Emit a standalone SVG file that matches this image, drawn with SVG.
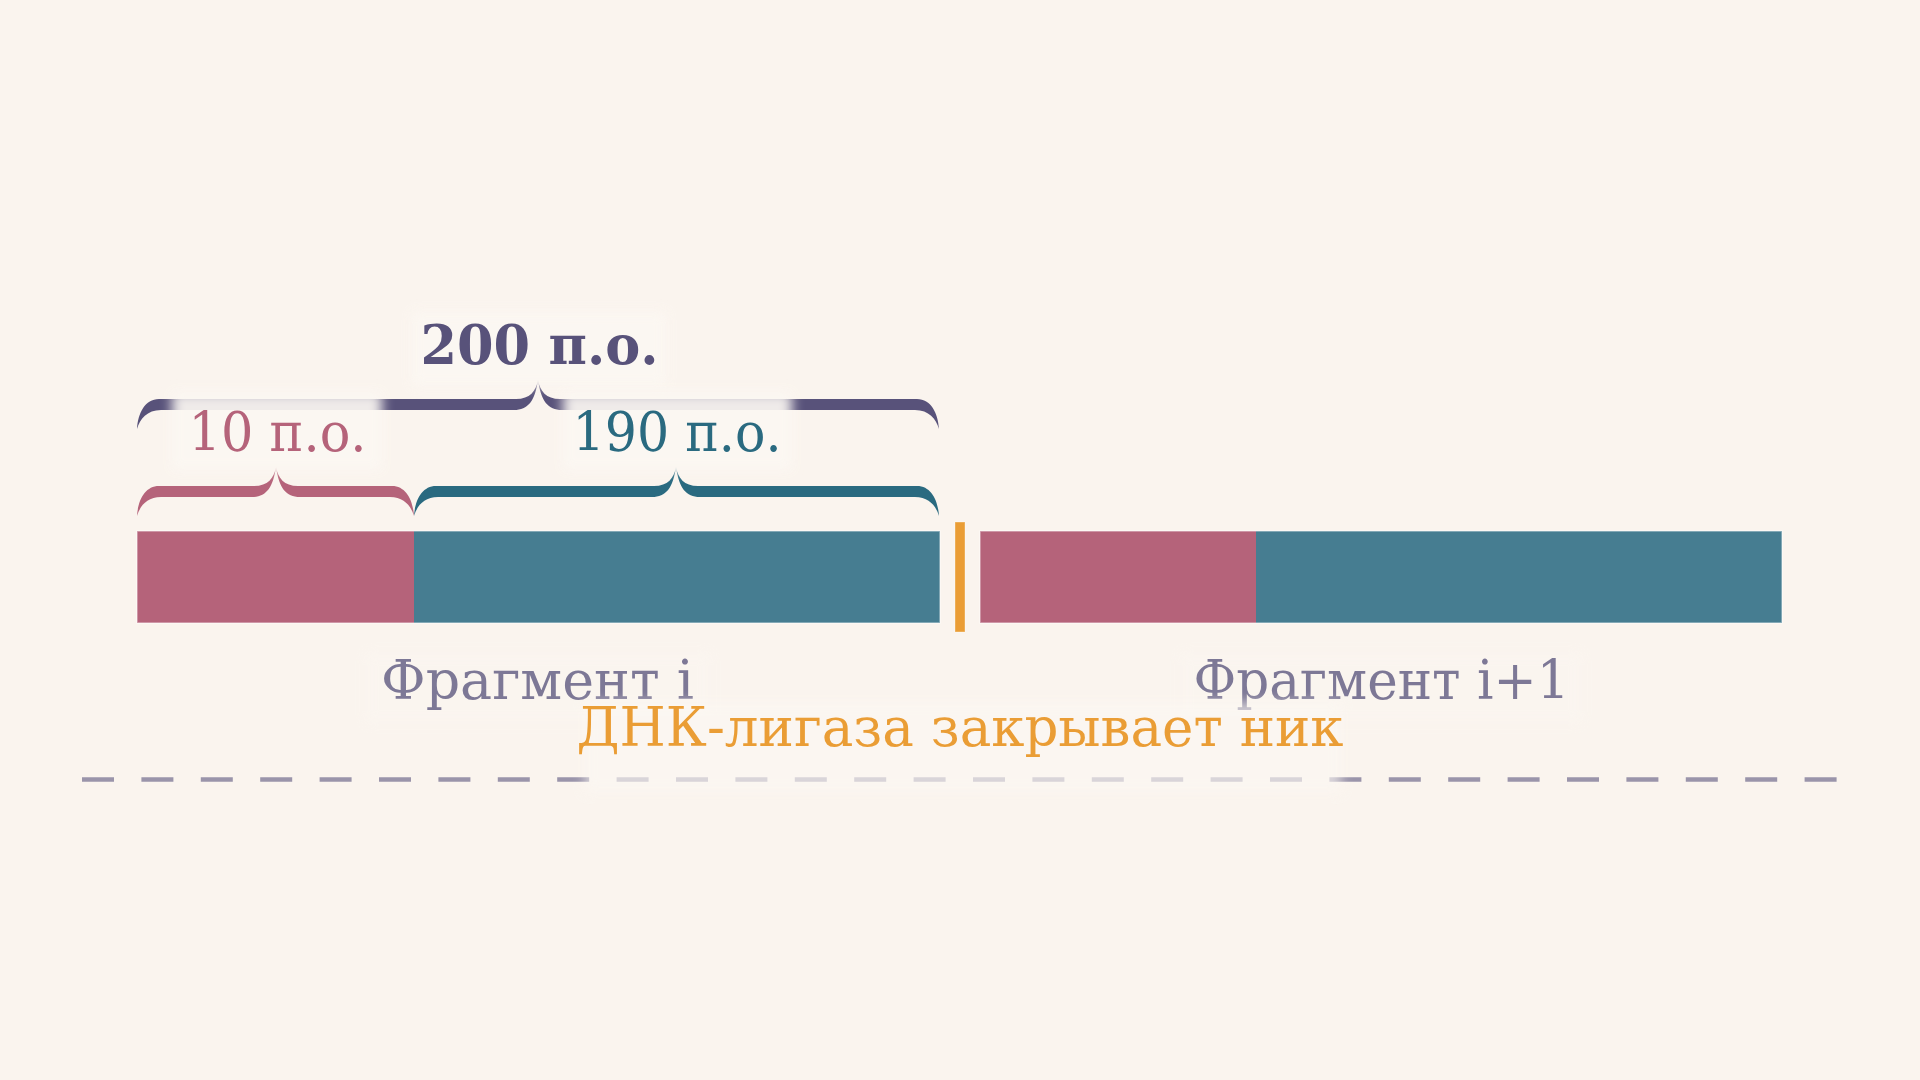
<svg xmlns="http://www.w3.org/2000/svg" width="1920" height="1080" viewBox="0 0 1920 1080">
<defs>
<style>
.lbl{font-family:"DejaVu Serif","Liberation Serif",serif;text-anchor:middle;font-size:54px}
.edge{fill:none;stroke:#ffffff;stroke-opacity:0.45;stroke-width:1.5}
.lbg{fill:#fcf8f3;filter:url(#soft)}
</style>
<filter id="soft" x="-20%" y="-40%" width="140%" height="180%"><feGaussianBlur stdDeviation="6"/></filter>
</defs>
<rect width="1920" height="1080" fill="#faf4ee"/>
<g id="connectors">
<line id="baseline" x1="82" y1="779.5" x2="1837" y2="779.5" stroke="#9a94aa" stroke-width="4.5" stroke-dasharray="32 27.4"/>
</g>
<g id="brace-200">
<path fill="#58527a" d="M137,429 C138,413 145,399 159,399 L516,399 C530,399 536,391 538,380 C540,391 546,399 560,399 L917,399 C931,399 938,413 939,429 C936,419 929,410 915,410 L562,410 C548,410 541,401 538,380 C535,401 528,410 514,410 L161,410 C147,410 140,419 137,429 Z"/>
</g>
<g id="brace-10">
<path fill="#b5637a" d="M137,516 C138,500 145,486 159,486 L254,486 C268,486 274,478 276,467 C278,478 284,486 298,486 L392,486 C406,486 413,500 414,516 C411,506 404,497 390,497 L300,497 C286,497 279,488 276,467 C273,488 266,497 252,497 L161,497 C147,497 140,506 137,516 Z"/>
</g>
<g id="brace-190">
<path fill="#2a6a80" d="M414,516 C415,500 422,486 436,486 L654,486 C668,486 674,478 676,467 C678,478 684,486 698,486 L917,486 C931,486 938,500 939,516 C936,506 929,497 915,497 L700,497 C686,497 679,488 676,467 C673,488 666,497 652,497 L438,497 C424,497 417,506 414,516 Z"/>
</g>
<g id="fragment-i">
<rect x="137" y="531" width="277" height="92" fill="#b5637a"/>
<rect x="414" y="531" width="526" height="92" fill="#467d91"/>
<rect class="edge" x="137" y="531" width="803" height="92"/>
</g>
<g id="nick">
<rect x="955" y="522" width="10" height="110" fill="#ea9d35" stroke="#ffffff" stroke-opacity="0.35" stroke-width="1"/>
</g>
<g id="fragment-i1">
<rect x="980" y="531" width="276" height="92" fill="#b5637a"/>
<rect x="1256" y="531" width="526" height="92" fill="#467d91"/>
<rect class="edge" x="980" y="531" width="802" height="92"/>
</g>
<g id="label-200">
<rect class="lbg" x="412" y="312" width="254" height="74" opacity="0.85"/>
<text class="lbl" x="539.5" y="364" font-weight="bold" font-size="59" fill="#58527a" textLength="238" lengthAdjust="spacingAndGlyphs">200 п.о.</text>
</g>
<g id="label-10">
<rect class="lbg" x="172" y="392" width="210" height="78" opacity="0.92"/>
<text class="lbl" x="277.5" y="451" fill="#b5637a" textLength="178" lengthAdjust="spacingAndGlyphs">10 п.о.</text>
</g>
<g id="label-190">
<rect class="lbg" x="563" y="392" width="229" height="78" opacity="0.92"/>
<text class="lbl" x="677" y="451" fill="#2a6a80" textLength="209" lengthAdjust="spacingAndGlyphs">190 п.о.</text>
</g>
<g id="label-fragment-i">
<rect class="lbg" x="365" y="652" width="346" height="72" opacity="0.35"/>
<text class="lbl" x="537.5" y="699" fill="#7d7896" textLength="313" lengthAdjust="spacingAndGlyphs">Фрагмент i</text>
</g>
<g id="label-fragment-i1">
<rect class="lbg" x="1180" y="652" width="402" height="72" opacity="0.35"/>
<text class="lbl" x="1381.5" y="699" fill="#7d7896" textLength="376" lengthAdjust="spacingAndGlyphs">Фрагмент i+1</text>
</g>
<g id="label-ligase">
<rect class="lbg" x="585" y="702" width="756" height="90" opacity="0.65"/>
<text class="lbl" x="960" y="746" fill="#ea9d35" textLength="767" lengthAdjust="spacingAndGlyphs">ДНК-лигаза закрывает ник</text>
</g>
</svg>
